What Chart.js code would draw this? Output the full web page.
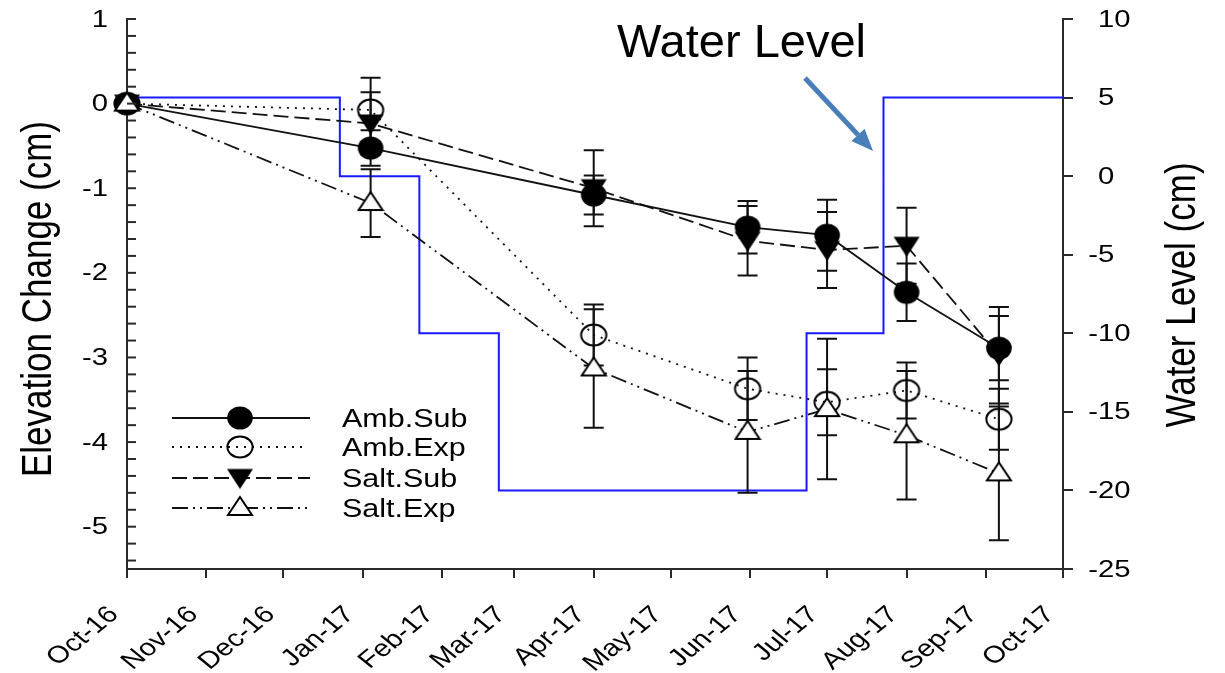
<!DOCTYPE html>
<html><head><meta charset="utf-8">
<script src="https://cdn.jsdelivr.net/npm/chart.js@4.4.1/dist/chart.umd.min.js"></script>
<style>html,body{margin:0;padding:0;background:#fff;}canvas{display:block;}</style>
</head><body>
<canvas id="c" width="1225" height="673"></canvas>
<script>
// ---------- data ----------
const monthTickDays = [0,31,61,92,123,151,182,212,243,273,304,335,365];
const monthLabels = ['Oct-16','Nov-16','Dec-16','Jan-17','Feb-17','Mar-17','Apr-17','May-17','Jun-17','Jul-17','Aug-17','Sep-17','Oct-17'];
const elevTicks = [1,0,-1,-2,-3,-4,-5];
const waterTicks = [10,5,0,-5,-10,-15,-20,-25];
const sampleDays = [0,95,182,242,273,304,340];
const ambSub    = [0,-0.525,-1.08,-1.46,-1.555,-2.23,-2.89];
const ambSubErr = [0,0.21,0.23,0.31,0.42,0.34,0.38];
const ambExp    = [0,-0.075,-2.735,-3.37,-3.53,-3.39,-3.73];
const ambExpErr = [0,0.38,0.36,0.37,0.39,0.33,0.36];
const saltSub    = [0,-0.235,-1.00,-1.62,-1.73,-1.68,-2.975];
const saltSubErr = [0,0.37,0.45,0.41,0.45,0.45,0.57];
const saltExp    = [0,-1.175,-3.13,-3.88,-3.61,-3.92,-4.37];
const saltExpErr = [0,0.40,0.70,0.72,0.83,0.76,0.79];
const waterDays  = [0,83,114,145,265,295,365];
const waterLevel = [5,0,-10,-20,-10,5,5];
const seriesNames = ['Amb.Sub','Amb.Exp','Salt.Sub','Salt.Exp'];
const annotationText = 'Water Level';
const yTitle = 'Elevation Change (cm)';
const y2Title = 'Water Level (cm)';

// ---------- styling ----------
const SX = 1.22;               // horizontal stretch of the original figure's text
const FONT = '"Liberation Sans", Arial, sans-serif';
const AX = '#2a2a2a';
const INK = '#111';

function mk(w,h,draw){const c=document.createElement('canvas');c.width=w;c.height=h;const g=c.getContext('2d');draw(g);return c;}
const mFilledCircle = mk(28,26,g=>{g.fillStyle='#000';g.beginPath();g.ellipse(14,13,12.8,11.5,0,0,Math.PI*2);g.fill();});
const mOpenCircle   = mk(30,26,g=>{g.strokeStyle='#000';g.lineWidth=2;g.beginPath();g.ellipse(15,13,12.6,10.4,0,0,Math.PI*2);g.stroke();});
const mFilledDown   = mk(28,25,g=>{g.fillStyle='#000';g.beginPath();g.moveTo(1,3.5);g.lineTo(27,3.5);g.lineTo(14,23.5);g.closePath();g.fill();});
const mOpenUp       = mk(28,26,g=>{g.strokeStyle='#000';g.fillStyle='#fff';g.lineWidth=2;g.lineJoin='miter';g.beginPath();g.moveTo(14,2);g.lineTo(26,20);g.lineTo(2,20);g.closePath();g.fill();g.stroke();});

const markers = [mFilledCircle,mOpenCircle,mFilledDown,mOpenUp];
const dashes = [[],[2,6],[15,6],[16,5,2,5,2,5]];
const values = [ambSub,ambExp,saltSub,saltExp];
const errors = [ambSubErr,ambExpErr,saltSubErr,saltExpErr];

function pts(xs, ys){return xs.map((x,i)=>({x:x, y:ys[i]}));}

const datasets = seriesNames.map((n,i)=>({
  label:n, data:pts(sampleDays, values[i]), yAxisID:'y', order:4-i,
  borderColor:INK, borderWidth:1.8, borderDash:dashes[i], fill:false, tension:0,
  pointStyle:markers[i], pointRadius:12, pointHoverRadius:12, clip:false
}));
datasets.push({label:'Water', data:pts(waterDays, waterLevel), yAxisID:'y2', stepped:true, order:10,
  borderColor:'#1a1aff', borderWidth:2, pointRadius:0, fill:false, clip:false});
const WATER_INDEX = datasets.length-1;

function stext(ctx,str,x,y,font,align,base,rot,sx){
  ctx.save();ctx.translate(x,y);ctx.scale(sx===undefined?SX:sx,1);ctx.rotate(rot||0);
  ctx.font=font;ctx.textAlign=align||'left';ctx.textBaseline=base||'alphabetic';ctx.fillStyle='#000';
  ctx.fillText(str,0,0);ctx.restore();
}

const errorBars = {
  id:'errorBars',
  afterDatasetDraw(chart,args){
    if(args.index!==WATER_INDEX) return;
    const ctx=chart.ctx, xs=chart.scales.x, ys=chart.scales.y;
    ctx.save();ctx.strokeStyle=INK;ctx.lineWidth=2;ctx.setLineDash([]);
    values.forEach((vals,s)=>{
      vals.forEach((v,i)=>{
        const e=errors[s][i]; if(!e) return;
        const px=xs.getPixelForValue(sampleDays[i]);
        const top=ys.getPixelForValue(v+e), bot=ys.getPixelForValue(v-e);
        ctx.beginPath();ctx.moveTo(px,top);ctx.lineTo(px,bot);
        ctx.moveTo(px-10,top);ctx.lineTo(px+10,top);
        ctx.moveTo(px-10,bot);ctx.lineTo(px+10,bot);ctx.stroke();
      });
    });
    ctx.restore();
  }
};

const decor = {
  id:'decor',
  afterDraw(chart){
    const ctx=chart.ctx, xs=chart.scales.x, ys=chart.scales.y, y2=chart.scales.y2, a=chart.chartArea;
    // left axis inside ticks every 0.2
    ctx.save();ctx.strokeStyle=AX;ctx.lineWidth=2;
    for(let k=-27;k<=5;k++){const py=ys.getPixelForValue(k*0.2);ctx.beginPath();ctx.moveTo(a.left,py);ctx.lineTo(a.left+9,py);ctx.stroke();}
    ctx.restore();
    // left tick labels
    const tf='24px '+FONT;
    elevTicks.forEach(v=>stext(ctx,String(v),108,ys.getPixelForValue(v)+1,tf,'right','middle'));
    // right tick labels (digits left-aligned, minus hanging)
    ctx.save();ctx.font=tf;const wm=ctx.measureText('-').width*SX;ctx.restore();
    waterTicks.forEach(v=>stext(ctx,String(v),1098-(v<0?wm:0),y2.getPixelForValue(v)+1,tf,'left','middle'));
    // x tick labels
    monthTickDays.forEach((d,i)=>stext(ctx,monthLabels[i],xs.getPixelForValue(d)-13,a.bottom+42,'24px '+FONT,'right','middle',-Math.PI/4));
    // axis titles
    stext(ctx,yTitle,51,299,'35px '+FONT,'center','alphabetic',-Math.PI/2);
    stext(ctx,y2Title,1195,295,'35px '+FONT,'center','alphabetic',-Math.PI/2);
    // legend
    const rows=[418,447,478,508];
    seriesNames.forEach((n,i)=>{
      const y=rows[i];
      ctx.save();ctx.strokeStyle=INK;ctx.lineWidth=1.8;ctx.setLineDash(dashes[i]);
      ctx.beginPath();ctx.moveTo(172,y);ctx.lineTo(i===1?306:310,y);ctx.stroke();ctx.restore();
      const m=markers[i];ctx.drawImage(m,240-m.width/2,y-m.height/2);
      stext(ctx,n,342,y+9,'25px '+FONT,'left','alphabetic');
    });
    // annotation
    stext(ctx,annotationText,617,57,'47px '+FONT,'left','alphabetic',0,1);
    // arrow
    const x0=805,y0=78,x1=873,y1=151;const ang=Math.atan2(y1-y0,x1-x0);
    const hl=22,hw=9;const bx=x1-hl*Math.cos(ang),by=y1-hl*Math.sin(ang);
    ctx.save();ctx.strokeStyle='#4a7ebb';ctx.fillStyle='#4a7ebb';ctx.lineWidth=5;
    ctx.beginPath();ctx.moveTo(x0,y0);ctx.lineTo(bx,by);ctx.stroke();
    ctx.beginPath();ctx.moveTo(x1,y1);
    ctx.lineTo(bx+hw*Math.sin(ang),by-hw*Math.cos(ang));
    ctx.lineTo(bx-hw*Math.sin(ang),by+hw*Math.cos(ang));
    ctx.closePath();ctx.fill();ctx.restore();
  }
};

new Chart(document.getElementById('c'),{
  type:'line',
  data:{datasets:datasets},
  options:{
    responsive:false, animation:false,
    layout:{padding:{left:119,right:152,top:19,bottom:95}},
    plugins:{legend:{display:false},tooltip:{enabled:false}},
    scales:{
      x:{type:'linear',position:'bottom',min:0,max:365,
        afterBuildTicks:s=>{s.ticks=monthTickDays.map(v=>({value:v}));},
        ticks:{display:false},
        grid:{display:true,drawOnChartArea:false,drawTicks:true,tickLength:9,color:AX,lineWidth:2},
        border:{display:true,color:AX,width:2}},
      y:{type:'linear',position:'left',min:-5.5,max:1,
        ticks:{display:false},grid:{display:false},border:{display:true,color:AX,width:2}},
      y2:{type:'linear',position:'right',min:-25,max:10,
        afterBuildTicks:s=>{s.ticks=waterTicks.map(v=>({value:v}));},
        ticks:{display:false},
        grid:{display:true,drawOnChartArea:false,drawTicks:true,tickLength:10,color:AX,lineWidth:2},
        border:{display:true,color:AX,width:2}}
    }
  },
  plugins:[errorBars,decor]
});
</script>
</body></html>
